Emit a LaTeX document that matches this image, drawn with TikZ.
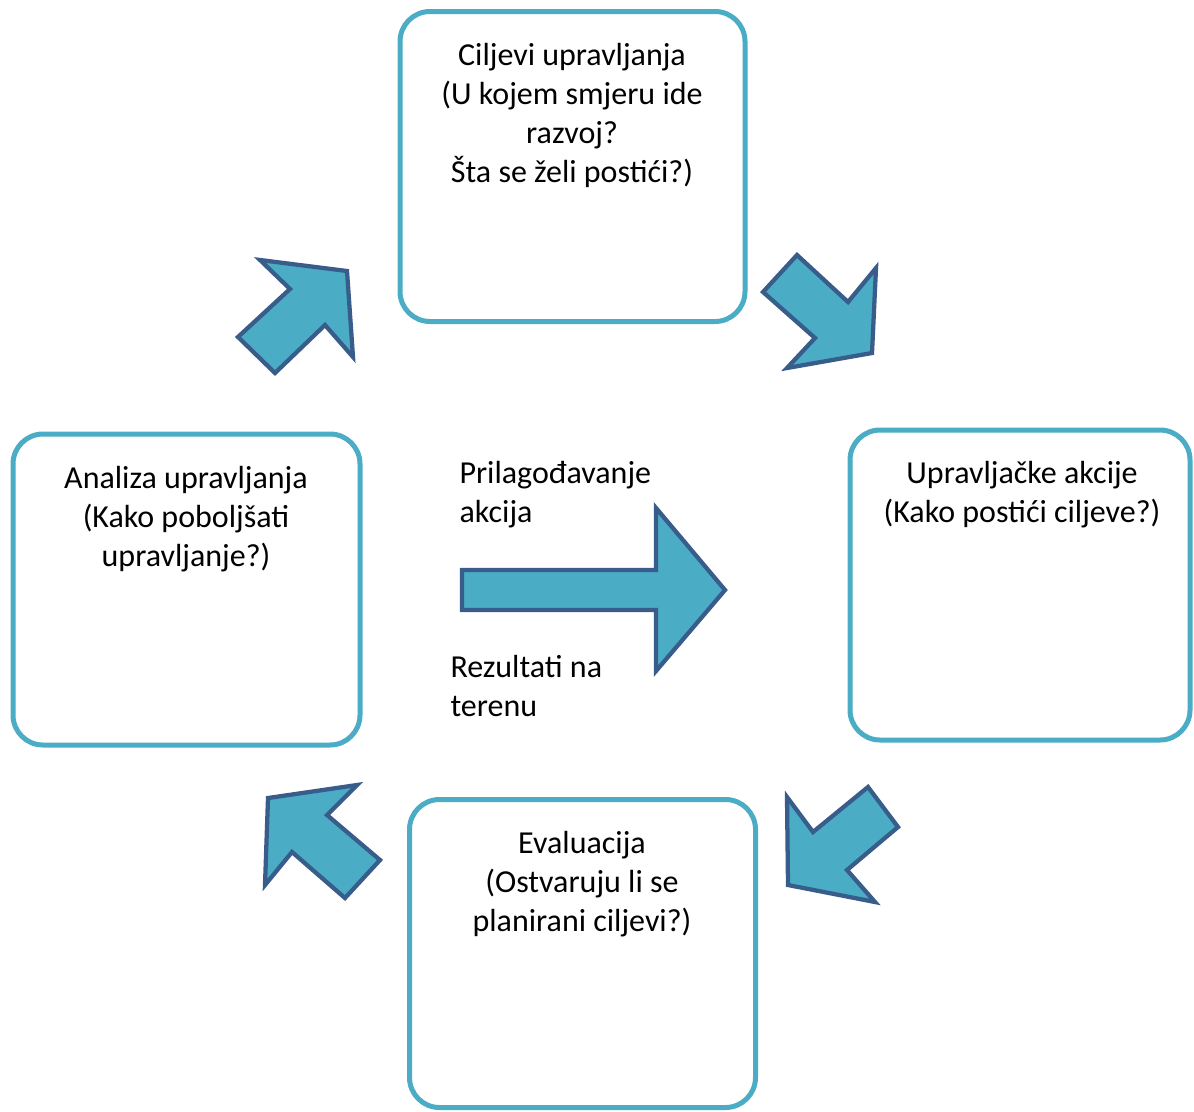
\documentclass[tikz,border=0pt]{standalone}
\usepackage{fontspec}
\setmainfont{Carlito}
\usepackage{tikz}
\tikzset{every picture/.style={line width=0.75pt}}
\definecolor{boxblue}{RGB}{75,172,198}
\definecolor{arrowedge}{RGB}{56,93,138}
\tikzset{
  goalbox/.style={draw=boxblue, line width=3.75pt, rounded corners=22.5pt, fill=white, minimum height=232.5pt, inner sep=0pt},
  boxtext/.style={anchor=north, inner sep=0pt, align=center, font=\fontsize{24}{29.25}\selectfont},
  sidetext/.style={anchor=north west, inner sep=0pt, align=left, font=\fontsize{24}{29.25}\selectfont},
  blockarrow/.style={draw=arrowedge, fill=boxblue, line width=3.2pt, line join=miter}
}

\begin{document}
\begin{tikzpicture}[x=0.75pt,y=0.75pt,yscale=-1,xscale=1]
%set diagram to the size of the picture
\path[use as bounding box] (0,0) rectangle (1194,1111);

%Shape: Rounded Rect [id:ciljevi]
\node[goalbox, minimum width=258.75pt] (ciljevi) at (572.5,166.5) {};
%Shape: Rounded Rect [id:analiza]
\node[goalbox, minimum width=260.25pt, minimum height=233.25pt] (analiza) at (186.5,589.5) {};
%Shape: Rounded Rect [id:akcije]
\node[goalbox, minimum width=255pt] (akcije) at (1020,585) {};
%Shape: Rounded Rect [id:evaluacija]
\node[goalbox, minimum width=259.5pt, minimum height=231pt] (evaluacija) at (582.5,953.5) {};

%Shape: Right Arrow [id:gore_desno]
\draw[blockarrow] (238,337) -- (290,289) -- (260,260) -- (347,271) -- (353,357) -- (325,325) -- (275,373) -- cycle ;
%Shape: Right Arrow [id:desno_dolje]
\draw[blockarrow] (763,292) -- (797,255) -- (848,302) -- (876,268) -- (872,353) -- (787,368) -- (815,338) -- cycle ;
%Shape: Right Arrow [id:lijevo_dolje]
\draw[blockarrow] (868,787) -- (898,827) -- (847,870) -- (875,902) -- (788,885) -- (787,797) -- (813,832) -- cycle ;
%Shape: Right Arrow [id:lijevo_gore]
\draw[blockarrow] (268,798) -- (357,785) -- (327,815) -- (380,860) -- (345,898) -- (292,852) -- (265,885) -- cycle ;
%Shape: Right Arrow [id:sredina]
\draw[blockarrow] (462,570) -- (656,570) -- (656,508) -- (725,590) -- (656,671) -- (656,610) -- (462,610) -- cycle ;

% Text Node
\node[boxtext] (ciljevitxt) at (572,43) {Ciljevi upravljanja\\(U kojem smjeru ide\\razvoj?\\Šta se želi postići?)};
% Text Node
\node[boxtext] (analizatxt) at (186,466) {Analiza upravljanja\\(Kako poboljšati\\upravljanje?)};
% Text Node
\node[boxtext] (akcijetxt) at (1022,461) {Upravljačke akcije\\(Kako postići ciljeve?)};
% Text Node
\node[boxtext] (evaluacijatxt) at (582,831) {Evaluacija\\(Ostvaruju li se\\planirani ciljevi?)};
% Text Node
\node[sidetext] (prilagodjavanje) at (459,461) {Prilagođavanje\\akcija};
% Text Node
\node[sidetext] (rezultati) at (450,655) {Rezultati na\\terenu};

\end{tikzpicture}
\end{document}
